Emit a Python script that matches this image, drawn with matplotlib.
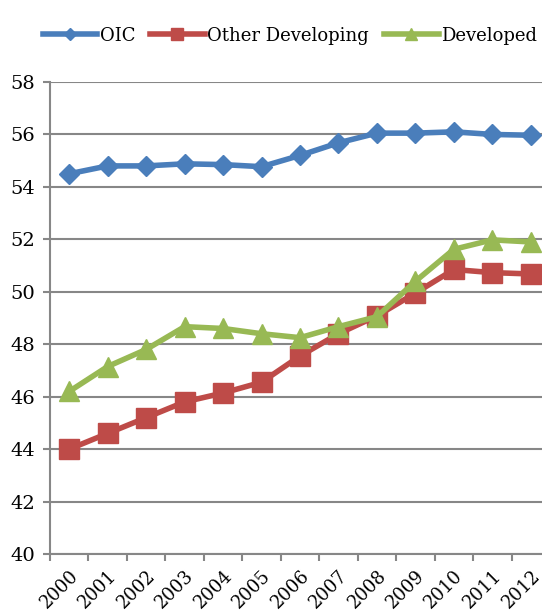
import matplotlib.pyplot as plt
import numpy as np

years = ['2000', '2001', '2002', '2003', '2004', '2005', '2006',
         '2007', '2008', '2009', '2010', '2011', '2012']
oic = [54.5, 54.8, 54.8, 54.88, 54.85, 54.77, 55.2, 55.68, 56.05, 56.05, 56.1, 56.0, 55.97]
other_dev = [44.0, 44.6, 45.2, 45.8, 46.14, 46.55, 47.55, 48.4, 49.08, 49.95, 50.85, 50.73, 50.68]
developed = [46.2, 47.15, 47.8, 48.67, 48.6, 48.4, 48.25, 48.67, 49.05, 50.4, 51.62, 51.98, 51.9]

plt.rcParams['font.family'] = ['DejaVu Serif']

fig = plt.figure(figsize=(5.42, 6.16), dpi=100)
ax = fig.add_axes([50 / 542, 1 - 554 / 616, 500 / 542, (554 - 82) / 616])

x = np.arange(len(years))
ax.plot(x, oic, color='#4A7EBB', lw=4, marker='D', ms=10.5, label='OIC')
ax.plot(x, other_dev, color='#BE4B48', lw=4, marker='s', ms=14, label='Other Developing')
ax.plot(x, developed, color='#98B954', lw=4, marker='^', ms=14.5, label='Developed')

ax.set_ylim(40, 58)
ax.set_xlim(-0.5, 12.5)
ax.set_yticks(range(40, 59, 2))
ax.yaxis.grid(True, color='#878787', lw=1.5)
ax.set_axisbelow(True)

ax.set_xticks(x)
ax.set_xticklabels(years, rotation=45, ha='right', rotation_mode='anchor')
ax.set_xticks(np.arange(-0.5, 12.6, 1), minor=True)
ax.tick_params(axis='x', which='major', length=0, pad=9, labelsize=13)
ax.tick_params(axis='x', which='minor', length=5, color='#878787', width=1.5)
ax.tick_params(axis='y', length=5, color='#878787', width=1.5, labelsize=14, pad=6)

for s in ['top', 'right']:
    ax.spines[s].set_visible(False)
for s in ['left', 'bottom']:
    ax.spines[s].set_color('#878787')
    ax.spines[s].set_linewidth(1.5)

fig.legend(loc='upper center', bbox_to_anchor=(0.535, 0.983), ncol=3, frameon=False,
           fontsize=13, handlelength=3.0, handletextpad=0.15, columnspacing=0.85,
           markerscale=0.6)

fig.savefig('out.png', dpi=100)
